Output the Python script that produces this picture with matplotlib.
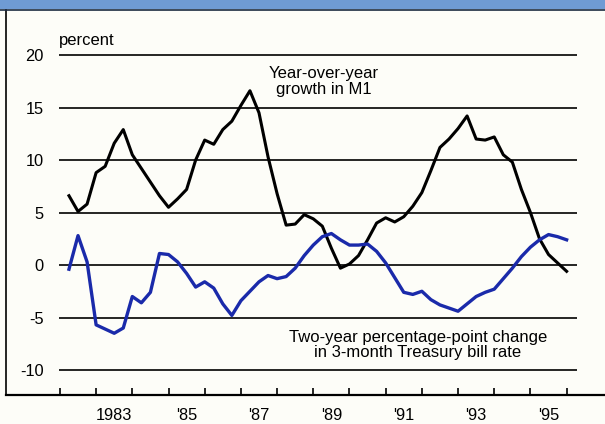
import numpy as np
import pandas as pd
import matplotlib
matplotlib.use("Agg")
import matplotlib.pyplot as plt
from matplotlib.patches import Rectangle

# quarterly data, 1982Q1 - 1995Q4, plotted at quarter end
quarters = pd.period_range("1982Q1", "1995Q4", freq="Q")
m1_growth = [6.6, 5.1, 5.8, 8.8, 9.4, 11.6, 12.9, 10.5, 9.2, 7.9, 6.6, 5.5,
             6.3, 7.2, 10.0, 11.9, 11.5, 12.9, 13.7, 15.2, 16.6, 14.5, 10.3, 6.8,
             3.8, 3.9, 4.8, 4.4, 3.7, 1.6, -0.3, 0.1, 0.9, 2.4, 4.0, 4.5,
             4.1, 4.6, 5.6, 6.9, 9.0, 11.2, 12.0, 13.0, 14.2, 12.0, 11.9, 12.2,
             10.5, 9.8, 7.2, 5.0, 2.5, 1.0, 0.2, -0.6]
tbill_change = [-0.4, 2.8, 0.3, -5.7, -6.1, -6.5, -6.0, -3.0, -3.6, -2.6, 1.1, 1.0,
                0.3, -0.8, -2.1, -1.6, -2.2, -3.7, -4.8, -3.4, -2.5, -1.6, -1.0, -1.3,
                -1.1, -0.3, 0.9, 1.9, 2.7, 3.0, 2.4, 1.9, 1.9, 2.0, 1.3, 0.2,
                -1.2, -2.6, -2.8, -2.5, -3.3, -3.8, -4.1, -4.4, -3.7, -3.0, -2.6, -2.3,
                -1.3, -0.3, 0.8, 1.7, 2.4, 2.9, 2.7, 2.4]
year_ticks = list(range(1982, 1997))
year_labels = ["", "1983", "", "'85", "", "'87", "", "'89", "", "'91", "", "'93", "", "'95"]
y_ticks = [-10, -5, 0, 5, 10, 15, 20]

x = [q.year + q.quarter / 4 for q in quarters]

plt.rcParams["font.family"] = ["Liberation Sans", "DejaVu Sans"]
bg = "#fdfdf8"

fig = plt.figure(figsize=(6.05, 4.24), dpi=100, facecolor=bg)
ax = fig.add_axes([6 / 605, 29 / 424, 599 / 605, 385 / 424], facecolor=bg)
ax.set_xlim(1980.51, 1997.06)
ax.set_ylim(-12.38, 24.29)

# horizontal grid lines
ax.hlines(y_ticks, 1981.97, 1996.28, color="black", lw=1.2, zorder=1)

ax.plot(x, m1_growth, color="black", lw=2.2, zorder=3)
ax.plot(x, tbill_change, color="#1a2aaa", lw=2.4, zorder=3)

ax.text(1989.29, 17.5, "Year-over-year\ngrowth in M1", ha="center", va="center",
        fontsize=12, linespacing=1.05)
ax.text(1991.89, -7.62, "Two-year percentage-point change\nin 3-month Treasury bill rate",
        ha="center", va="center", fontsize=12, linespacing=1.05)
ax.text(1981.97, 21.4, "percent", ha="left", va="center", fontsize=12)

# y labels inside the frame
ax.set_yticks(y_ticks)
ax.set_yticklabels([str(v) for v in y_ticks])
ax.tick_params(axis="y", length=0, pad=-27, labelsize=11.8)

# year ticks on the bottom line, labels centred between them
ax.set_xticks(year_ticks)
ax.set_xticklabels([])
ax.tick_params(axis="x", which="major", direction="in", length=5, width=1.2)
ax.set_xticks([y + 0.5 for y in year_ticks[:-1]], minor=True)
ax.set_xticklabels(year_labels, minor=True)
ax.tick_params(axis="x", which="minor", length=0, pad=9, labelsize=11.8)

for s in ["top", "right"]:
    ax.spines[s].set_visible(False)
ax.spines["bottom"].set_linewidth(1.6)
ax.spines["left"].set_linewidth(1.2)

# header band
fig.patches.append(Rectangle((0, 1 - 9 / 424), 1, 9 / 424, transform=fig.transFigure,
                             facecolor="#6f9bd4", edgecolor="none"))
fig.lines.append(plt.Line2D([0, 1], [1 - 10 / 424, 1 - 10 / 424], transform=fig.transFigure,
                            color="#1a2a40", lw=1.2))

fig.savefig("out.png", dpi=100, facecolor=bg)
